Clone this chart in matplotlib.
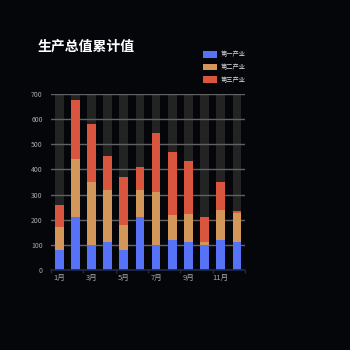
import numpy as np
import matplotlib
matplotlib.use('Agg')
import matplotlib.pyplot as plt

plt.rcParams['font.family'] = ['Noto Sans CJK SC', 'DejaVu Sans']

# data
months = ['1月', '2月', '3月', '4月', '5月', '6月', '7月', '8月', '9月', '10月', '11月', '12月']
primary   = [80, 210, 100, 110, 80, 210, 100, 120, 112, 100, 120, 112]
secondary = [90, 230, 250, 210, 100, 110, 210, 100, 110, 10, 120, 113]
tertiary  = [90, 235, 230, 135, 190, 90, 235, 250, 212, 100, 110, 10]
series_names = ['第一产业', '第二产业', '第三产业']
y_max = 700

bg = '#05060a'
colors = ['#5672f7', '#d4975a', '#d9553e']

fig = plt.figure(figsize=(3.5, 3.5), dpi=100, facecolor=bg)
ax = fig.add_axes([0.146, 0.229, 0.554, 0.502])
ax.set_facecolor(bg)

x = np.arange(len(months))
w = 0.54

# background shadow bars
ax.bar(x, [y_max] * len(x), width=w, color='#232323', zorder=1)

p = np.array(primary)
s = np.array(secondary)
t = np.array(tertiary)
b1 = ax.bar(x, p, width=w, color=colors[0], zorder=3)
b2 = ax.bar(x, s, width=w, bottom=p, color=colors[1], zorder=3)
b3 = ax.bar(x, t, width=w, bottom=p + s, color=colors[2], zorder=3)

ax.set_xlim(-0.5, len(x) - 0.5)
ax.set_ylim(0, y_max)
ax.set_yticks(np.arange(0, y_max + 1, 100))
ax.yaxis.grid(True, color='#626262', linewidth=1.0, zorder=2)
ax.set_axisbelow(False)

ax.set_xticks(x[::2])
ax.set_xticklabels(months[::2])
ax.set_xticks(np.arange(-0.5, len(x), 2), minor=True)
ax.tick_params(axis='x', which='major', length=0, colors='#a8a8a8', labelsize=5.5, pad=3)
ax.tick_params(axis='x', which='minor', length=2.5, color='#1d2a4a', width=1)
ax.tick_params(axis='y', length=0, colors='#a8a8a8', labelsize=5, pad=6)

for side in ['top', 'right', 'left']:
    ax.spines[side].set_visible(False)
ax.spines['bottom'].set_color('#1d2a4a')
ax.spines['bottom'].set_linewidth(1.2)
ax.spines['bottom'].set_zorder(4)

fig.text(0.108, 0.866, '生产总值累计值', color='white', fontsize=10,
         fontweight='bold', va='center', ha='left')

leg = fig.legend([b1, b2, b3], series_names, loc='upper left',
                 bbox_to_anchor=(0.565, 0.872), frameon=False, fontsize=4.5,
                 labelcolor='#dddddd', handlelength=2.2, handleheight=1.2,
                 handletextpad=0.5, labelspacing=0.75)

fig.savefig('out.png', dpi=100, facecolor=bg)
